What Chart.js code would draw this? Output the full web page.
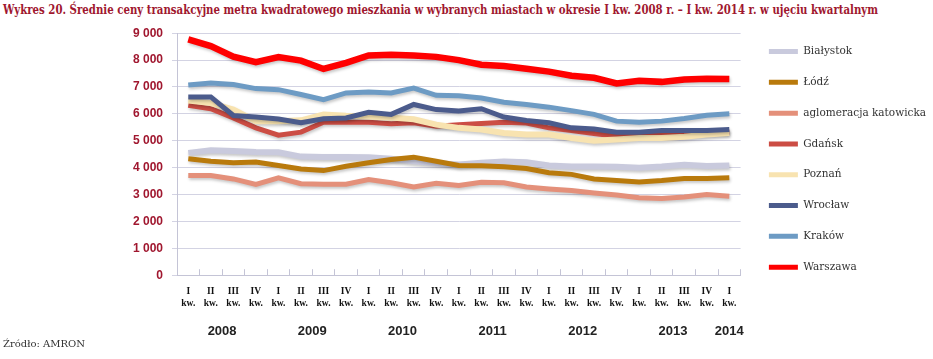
<!DOCTYPE html>
<html>
<head>
<meta charset="utf-8">
<script src="https://cdn.jsdelivr.net/npm/chart.js@4/dist/chart.umd.min.js"></script>
<style>
  body { margin: 0; width: 933px; height: 359px; overflow: hidden; position: relative; background: #fff; }
  #title { position: absolute; left: 3px; top: 2px; white-space: nowrap;
           font: bold 12.5px 'DejaVu Serif', serif; color: #a0172f;
           transform: scaleX(0.815); transform-origin: left top; }
  #wrap { position: absolute; left: 0; top: 17px; width: 936px; height: 323px; }
  #source { position: absolute; left: 3px; top: 338px; font: 10px 'DejaVu Serif', serif; color: #333; }
</style>
</head>
<body>
<div id="title">Wykres 20. Średnie ceny transakcyjne metra kwadratowego mieszkania w wybranych miastach w okresie I kw. 2008 r. – I kw. 2014 r. w ujęciu kwartalnym</div>
<div id="wrap"><canvas id="chart"></canvas></div>
<div id="source">Źródło: AMRON</div>
<script>
// quarters I kw. 2008 – I kw. 2014
const QUARTERS = ['I', 'II', 'III', 'IV', 'I', 'II', 'III', 'IV', 'I', 'II', 'III', 'IV', 'I',
                  'II', 'III', 'IV', 'I', 'II', 'III', 'IV', 'I', 'II', 'III', 'IV', 'I'];
const YEARS = ['2008', '2008', '2008', '2008', '2009', '2009', '2009', '2009', '2010', '2010', '2010', '2010',
               '2011', '2011', '2011', '2011', '2012', '2012', '2012', '2012', '2013', '2013', '2013', '2013', '2014'];

const BIALYSTOK = [4550, 4650, 4620, 4580, 4570, 4410, 4400, 4400, 4390, 4330, 4240, 4160, 4120,
                   4180, 4230, 4200, 4080, 4040, 4040, 4030, 4000, 4040, 4110, 4060, 4080];
const LODZ = [4330, 4240, 4180, 4210, 4080, 3950, 3890, 4050, 4180, 4300, 4390, 4240, 4080,
              4070, 4030, 3970, 3810, 3750, 3580, 3520, 3470, 3520, 3600, 3600, 3620];
const KATOWICE = [3710, 3710, 3580, 3380, 3620, 3400, 3380, 3380, 3560, 3440, 3280, 3420, 3340,
                  3460, 3440, 3280, 3210, 3150, 3060, 2980, 2880, 2850, 2910, 3000, 2940];
const GDANSK = [6320, 6190, 5850, 5480, 5210, 5320, 5690, 5690, 5690, 5630, 5670, 5540, 5600,
                5640, 5690, 5660, 5480, 5380, 5270, 5170, 5230, 5260, 5290, 5300, 5320];
const POZNAN = [6500, 6400, 6160, 5730, 5730, 5760, 5980, 5930, 5900, 5860, 5800, 5600, 5480,
                5420, 5290, 5230, 5230, 5100, 5000, 5050, 5100, 5100, 5150, 5230, 5290];
const WROCLAW = [6630, 6630, 5940, 5880, 5810, 5670, 5820, 5850, 6060, 5980, 6350, 6160, 6110,
                 6190, 5880, 5750, 5670, 5480, 5440, 5320, 5320, 5380, 5380, 5380, 5420];
const KRAKOW = [7070, 7150, 7090, 6940, 6900, 6720, 6530, 6780, 6810, 6780, 6960, 6690, 6670,
                6590, 6430, 6350, 6250, 6120, 5980, 5730, 5690, 5730, 5830, 5950, 6000];
const WARSZAWA = [8770, 8520, 8130, 7920, 8110, 7980, 7670, 7900, 8170, 8200, 8170, 8120, 8000,
                  7830, 7780, 7680, 7570, 7420, 7340, 7130, 7230, 7190, 7280, 7310, 7300];

const SERIES = [
  { label: 'Białystok', data: BIALYSTOK, color: '#c9cadd', width: 6 },
  { label: 'Łódź', data: LODZ, color: '#b97a0c', width: 5 },
  { label: 'aglomeracja katowicka', data: KATOWICE, color: '#e4907a', width: 5 },
  { label: 'Gdańsk', data: GDANSK, color: '#cc4d44', width: 5 },
  { label: 'Poznań', data: POZNAN, color: '#f8e3b0', width: 6 },
  { label: 'Wrocław', data: WROCLAW, color: '#4b5b8c', width: 5 },
  { label: 'Kraków', data: KRAKOW, color: '#6d9bc4', width: 5 },
  { label: 'Warszawa', data: WARSZAWA, color: '#ff0000', width: 6.5 }
];

const AXIS_RED = '#a0172f';
const GRID = '#d3d3e3';

// Excel-like soft shadow under each line
const lineShadow = {
  id: 'lineShadow',
  beforeDatasetDraw(chart) {
    const ctx = chart.ctx;
    ctx.save();
    ctx.shadowColor = 'rgba(0,0,0,0.22)';
    ctx.shadowBlur = 3;
    ctx.shadowOffsetX = 1;
    ctx.shadowOffsetY = 2;
  },
  afterDatasetDraw(chart) { chart.ctx.restore(); }
};

// year captions centred under their quarters
const yearLabels = {
  id: 'yearLabels',
  afterDraw(chart) {
    const x = chart.scales.x;
    const ctx = chart.ctx;
    const groups = {};
    YEARS.forEach((y, i) => { (groups[y] = groups[y] || []).push(x.getPixelForValue(i)); });
    ctx.save();
    ctx.font = "bold 13px 'Liberation Sans', Arial, sans-serif";
    ctx.fillStyle = '#222';
    ctx.textAlign = 'center';
    ctx.textBaseline = 'middle';
    Object.entries(groups).forEach(([year, px]) => {
      const cx = px.reduce((a, b) => a + b, 0) / px.length;
      ctx.fillText(year, cx, chart.chartArea.bottom + 56);
    });
    ctx.restore();
  }
};

new Chart(document.getElementById('chart'), {
  type: 'line',
  data: {
    labels: QUARTERS.map(q => [q, 'kw.']),
    datasets: SERIES.map((s, i) => ({
      label: s.label,
      data: s.data,
      borderColor: s.color,
      backgroundColor: s.color,
      borderWidth: s.width,
      pointRadius: 0,
      tension: 0,
      fill: false,
      order: SERIES.length - i
    }))
  },
  options: {
    responsive: true,
    maintainAspectRatio: false,
    animation: false,
    layout: { padding: { top: 2, left: 133, bottom: 14, right: 0 } },
    plugins: {
      title: { display: false },
      tooltip: { enabled: false },
      legend: {
        position: 'right',
        align: 'start',
        maxWidth: 240,
        title: { display: true, text: '', font: { size: 2, lineHeight: 1 }, padding: { top: 5, bottom: 0 } },
        labels: {
          boxWidth: 29,
          boxHeight: 5,
          padding: 20.3,
          color: '#333',
          font: { family: "'DejaVu Serif', serif", size: 10.5 },
          sort: (a, b) => a.datasetIndex - b.datasetIndex,
          generateLabels: chart =>
            Chart.defaults.plugins.legend.labels.generateLabels(chart).map(l => ({ ...l, lineWidth: 0 }))
        }
      }
    },
    scales: {
      x: {
        offset: true,
        grid: { display: true, offset: true, drawOnChartArea: false, tickLength: -6, color: '#c4c4d6' },
        border: { color: '#c4c4d6' },
        ticks: {
          autoSkip: false,
          maxRotation: 0,
          padding: 17,
          color: '#111',
          font: { family: "'Liberation Serif', serif", size: 9.5, weight: 'bold', lineHeight: 1.2 }
        }
      },
      y: {
        min: 0,
        max: 9000,
        grid: { color: GRID, tickLength: 5 },
        border: { color: '#c4c4d6' },
        afterFit: s => { s.width = 44; },
        ticks: {
          stepSize: 1000,
          padding: 9,
          color: AXIS_RED,
          font: { family: "'Liberation Sans', Arial, sans-serif", size: 12, weight: 'bold' },
          callback: v => String(v).replace(/\B(?=(\d{3})+(?!\d))/g, ' ')
        }
      },
      // narrow spacer between plot and legend
      spacer: {
        position: 'right',
        display: true,
        grid: { display: false },
        border: { display: false },
        ticks: { display: false },
        afterFit: s => { s.width = 8; }
      }
    }
  },
  plugins: [lineShadow, yearLabels]
});
</script>
</body>
</html>
